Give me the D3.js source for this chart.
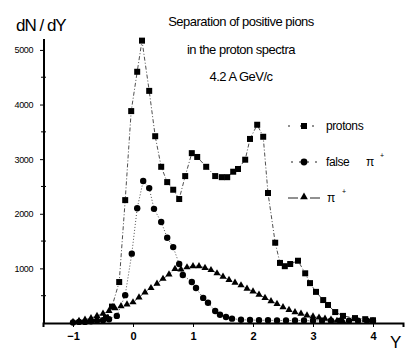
<!DOCTYPE html>
<html>
<head>
<meta charset="utf-8">
<script src="https://cdn.jsdelivr.net/npm/d3@7"></script>
<style>
  body { margin: 0; background: #fff; }
  svg { display: block; font-family: 'Liberation Sans', Arial, sans-serif; }
  .tick-label { font-size: 9px; letter-spacing: -0.4px; }
  .x-label { font-size: 11px; font-weight: bold; }
  .title { font-size: 13px; letter-spacing: -0.5px; }
  .legend { font-size: 12px; letter-spacing: -0.4px; }
</style>
</head>
<body>
<div id="chart"></div>
<script>
// svg nominal area
var svgWidth = 405;
var svgHeight = 351;

// protons (squares)
var protonY = [-0.45, -0.35, -0.23, -0.13, -0.03, 0.07, 0.15, 0.27, 0.37, 0.47, 0.57, 0.67, 0.77, 0.87, 0.98, 1.07, 1.22, 1.37, 1.48, 1.57, 1.67, 1.75, 1.87, 1.95, 2.07, 2.17, 2.25, 2.37, 2.45, 2.53, 2.62, 2.75, 2.87, 2.95, 3.05, 3.17, 3.25, 3.37, 3.5, 3.7, 3.87, 4.0];
var protonN = [100, 300, 750, 2250, 3880, 4600, 5170, 4250, 3420, 2860, 2580, 2440, 2270, 2690, 3110, 3040, 2860, 2690, 2670, 2670, 2770, 2820, 2990, 3370, 3630, 3410, 2380, 1470, 1100, 1040, 1080, 1140, 910, 730, 570, 420, 330, 200, 130, 90, 70, 50];

// false pi+ (circles)
var falseY = [-1.0, -0.9, -0.8, -0.7, -0.6, -0.5, -0.4, -0.27, -0.13, -0.02, 0.07, 0.17, 0.27, 0.35, 0.47, 0.57, 0.67, 0.77, 0.83, 0.98, 1.05, 1.17, 1.25, 1.37, 1.45, 1.55, 1.65, 1.8, 1.95, 2.1, 2.25, 2.4, 2.55, 2.7, 2.85, 3.0, 3.15, 3.3, 3.45, 3.6, 3.75, 3.9, 4.0];
var falseN = [10, 20, 20, 30, 40, 50, 70, 130, 510, 1270, 2100, 2600, 2470, 2090, 1850, 1560, 1390, 1080, 880, 750, 640, 460, 370, 220, 150, 110, 80, 60, 55, 50, 50, 45, 45, 45, 45, 40, 40, 40, 40, 40, 40, 40, 40];

// pi+ (triangles)
var piY = [-1.0, -0.9, -0.8, -0.7, -0.6, -0.5, -0.4, -0.3, -0.2, -0.1, 0.0, 0.1, 0.2, 0.3, 0.4, 0.5, 0.6, 0.7, 0.8, 0.9, 1.0, 1.1, 1.2, 1.3, 1.4, 1.5, 1.6, 1.7, 1.8, 1.9, 2.0, 2.1, 2.2, 2.3, 2.4, 2.5, 2.6, 2.7, 2.8, 2.9, 3.0, 3.1, 3.2, 3.3, 3.4, 3.5];
var piN = [20, 40, 60, 90, 130, 170, 220, 270, 310, 340, 380, 470, 560, 640, 720, 810, 890, 990, 980, 1020, 1040, 1040, 1010, 970, 910, 850, 790, 740, 690, 630, 580, 520, 460, 400, 350, 290, 240, 200, 170, 140, 120, 100, 80, 60, 40, 30];

// tick labels
var xTicks = [-1, 0, 1, 2, 3, 4];
var yTicks = [1000, 2000, 3000, 4000, 5000];
var titleLines = ['Separation of positive pions', 'in the proton spectra', '4.2 A GeV/c'];

var svg = d3.select('#chart')
    .append('svg')
    .attr('width', svgWidth)
    .attr('height', svgHeight);

// scales
var x = d3.scaleLinear().domain([-1.5, 4.5]).range([43, 403]);
var y = d3.scaleLinear().domain([0, 5200]).range([323, 39]);

var zip = (xs, ys) => xs.map((v, i) => ({ x: v, y: ys[i] }));
var protons = zip(protonY, protonN);
var falsePi = zip(falseY, falseN);
var pions = zip(piY, piN);

var line = d3.line().x(d => x(d.x)).y(d => y(d.y));

// connecting lines
svg.append('path').datum(protons)
    .attr('d', line).attr('fill', 'none').attr('stroke', '#222')
    .attr('stroke-width', 0.8).attr('stroke-dasharray', '4,2,1,2');
svg.append('path').datum(falsePi)
    .attr('d', line).attr('fill', 'none').attr('stroke', '#222')
    .attr('stroke-width', 0.8).attr('stroke-dasharray', '1,2');
svg.append('path').datum(pions)
    .attr('d', line).attr('fill', 'none').attr('stroke', '#222')
    .attr('stroke-width', 0.8).attr('stroke-dasharray', '4,2');

// axes
var xAxis = d3.axisBottom(x).tickValues(xTicks).tickSize(4).tickFormat(d3.format('d'));
var yAxis = d3.axisLeft(y).tickValues(yTicks).tickSize(4).tickFormat(d => d);

var gx = svg.append('g').attr('transform', 'translate(0,323)').call(xAxis);
gx.select('.domain').attr('stroke-width', 2);
gx.selectAll('.tick text').attr('class', 'x-label').attr('dy', '0.9em').attr('fill', '#000');

var gy = svg.append('g').attr('transform', 'translate(44,0)').call(yAxis);
gy.select('.domain').attr('stroke-width', 2).attr('d', 'M0,' + y(5200) + 'V' + y(0));
gy.selectAll('.tick text').attr('class', 'tick-label').attr('fill', '#000').attr('x', -11);

// minor ticks
svg.append('g').selectAll('line')
    .data(d3.range(500, 5200, 1000))
    .enter().append('line')
    .attr('x1', 41).attr('x2', 46)
    .attr('y1', d => y(d)).attr('y2', d => y(d))
    .attr('stroke', '#000').attr('stroke-width', 1);

// markers
svg.append('g').selectAll('rect')
    .data(protons).enter().append('rect')
    .attr('x', d => x(d.x) - 3).attr('y', d => y(d.y) - 3)
    .attr('width', 6).attr('height', 6).attr('fill', '#000');

svg.append('g').selectAll('circle')
    .data(falsePi).enter().append('circle')
    .attr('cx', d => x(d.x)).attr('cy', d => y(d.y))
    .attr('r', 3.2).attr('fill', '#000');

var tri = d3.symbol().type(d3.symbolTriangle).size(22);
svg.append('g').selectAll('path')
    .data(pions).enter().append('path')
    .attr('d', tri)
    .attr('transform', d => `translate(${x(d.x)},${y(d.y)})`)
    .attr('fill', '#000');

// axis titles
svg.append('text').attr('x', 16).attr('y', 31)
    .attr('font-size', 17).attr('letter-spacing', -1).text('dN / dY');
svg.append('text').attr('x', 390).attr('y', 348)
    .attr('font-size', 17).text('Y');

// title
svg.append('g').selectAll('text')
    .data(titleLines).enter().append('text')
    .attr('class', 'title')
    .attr('x', 241).attr('y', (d, i) => 26 + i * 27.5)
    .attr('text-anchor', 'middle')
    .text(d => d);

// legend
var legend = svg.append('g');
legend.append('line').attr('x1', 288).attr('x2', 320).attr('y1', 126).attr('y2', 126)
    .attr('stroke', '#222').attr('stroke-dasharray', '2,10');
legend.append('rect').attr('x', 301).attr('y', 123).attr('width', 6).attr('height', 6);
legend.append('text').attr('class', 'legend').attr('x', 326).attr('y', 130).text('protons');

legend.append('line').attr('x1', 291).attr('x2', 320).attr('y1', 162).attr('y2', 162)
    .attr('stroke', '#222').attr('stroke-dasharray', '2,6');
legend.append('circle').attr('cx', 304).attr('cy', 162).attr('r', 3.4);
legend.append('text').attr('class', 'legend').attr('x', 326).attr('y', 166).text('false');
legend.append('text').attr('class', 'legend').attr('x', 366).attr('y', 166).text('\u03c0');
legend.append('text').attr('x', 380).attr('y', 158).attr('font-size', 7).text('+');

legend.append('line').attr('x1', 288).attr('x2', 320).attr('y1', 198).attr('y2', 198)
    .attr('stroke', '#222').attr('stroke-dasharray', '10,12').attr('stroke-dashoffset', 0);
legend.append('path').attr('d', d3.symbol().type(d3.symbolTriangle).size(26))
    .attr('transform', 'translate(304,197)');
legend.append('text').attr('class', 'legend').attr('x', 327).attr('y', 202).text('\u03c0');
legend.append('text').attr('x', 342).attr('y', 194).attr('font-size', 7).text('+');
</script>
</body>
</html>
